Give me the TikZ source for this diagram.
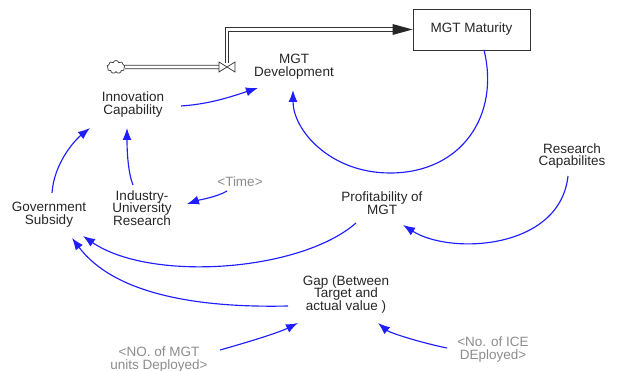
\documentclass[tikz,border=0pt]{standalone}
\usepackage{fontspec}
\setmainfont{Liberation Sans}
\usetikzlibrary{arrows.meta,calc,shapes.symbols}
\definecolor{linkblue}{RGB}{30,30,255}
\begin{document}
\begin{tikzpicture}[x=1pt,y=-1pt,
  every node/.style={font=\fontsize{13.5}{12.7}\selectfont, align=center, inner sep=0pt, text=black!85},
  shadowvar/.style={text=black!45},
  link/.style={draw=linkblue, line width=1.15pt, -{Latex[length=12pt,width=9pt]}},
  pipe/.style={draw=black!80, line width=0.8pt, double=white, double distance=2.6pt},
  stock/.style={draw=black!80, line width=0.9pt, minimum width=117pt, minimum height=41pt}]
\useasboundingbox (0,0) rectangle (619,371);

% nodes
\node[stock] (mat) at (471.5,29.5) {MGT Maturity};
\node (dev) at (294,67) {MGT\\Development};
\node (innov) at (133,104.5) {Innovation\\Capability};
\node (gov) at (49,215) {Government\\Subsidy};
\node (iur) at (142,208) {Industry-\\University\\Research};
\node[shadowvar] (time) at (240,182) {<Time>};
\node (prof) at (382,203) {Profitability of\\MGT};
\node (res) at (572,156) {Research\\Capabilites};
\node (gap) at (346,294.5) {Gap (Between\\Target and\\actual value )};
\node[shadowvar] (mgtunits) at (159,359.5) {<NO. of MGT\\units Deployed>};
\node[shadowvar] (ice) at (493,349.5) {<No. of ICE\\DEployed>};
\node[cloud, draw=black!80, cloud puffs=9, minimum width=18pt, minimum height=13pt, line width=0.7pt] (src) at (116,67) {};
\coordinate (valve) at (227,67);
\coordinate (loopbot) at (390,173);

% flow
\draw[pipe] (src.east) -- ([xshift=-7pt]valve);
\draw[pipe] ($(valve)+(0,-4)$) |- ($(mat.west)+(-19,0)$);
\draw[black!80, line width=0.7pt, fill=white] ($(valve)+(-8,-5)$) -- ($(valve)+(8,5)$) -- ($(valve)+(8,-5)$) -- ($(valve)+(-8,5)$) -- cycle;
\fill[black!85] (mat.west) -- ++(-20,-5.5) -- ++(0,11) -- cycle;

% links
\draw[link] ($(innov)+(48,1.5)$) .. controls +(30,-2) and +(-25,8) .. ($(dev)+(-36,21)$);
\draw[link] ($(gov)+(3,-22)$) .. controls +(2,-30) and +(-15,12) .. ($(innov)+(-43,23.5)$);
\draw[link] ($(iur)+(-9,-23)$) .. controls +(-6,-15) and +(0,15) .. ($(innov)+(-6,23.5)$);
\draw[link] ($(time)+(-13,9)$) .. controls +(-10,6) and +(12,-4) .. ($(iur)+(45,-4)$);
\draw[link] ($(mat)+(12.5,20.5)$) .. controls +(16,65) and +(72,0) .. (loopbot)
  .. controls +(-60,0) and +(0,40) .. ($(dev)+(-1,23)$);
\draw[link] ($(res)+(-4,20)$) .. controls +(-8,74) and +(47,30) .. ($(prof)+(21,22)$);
\draw[link] ($(prof)+(-26,20)$) .. controls +(-56,49) and +(67,46) .. ($(gov)+(34,21)$);
\draw[link] ($(gap)+(-58,11.5)$) .. controls +(-88,2) and +(43,57) .. ($(gov)+(23,23)$);
\draw[link] ($(mgtunits)+(61,-9.5)$) .. controls +(25,-7) and +(-20,10) .. ($(gap)+(-48,28.5)$);
\draw[link] ($(ice)+(-46,-1.5)$) .. controls +(-25,-5) and +(12,10) .. ($(gap)+(32,28.5)$);
\end{tikzpicture}
\end{document}
